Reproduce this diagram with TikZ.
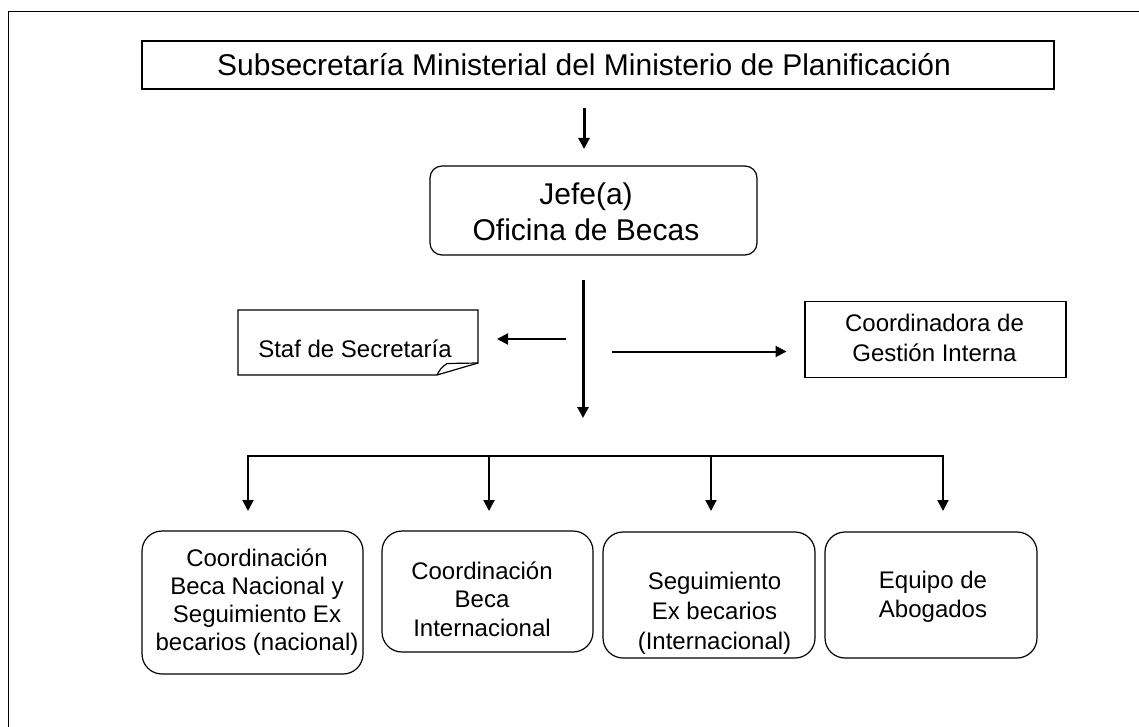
\documentclass[tikz,border=0pt]{standalone}
\usepackage{fontspec}
\setmainfont{Liberation Sans}
\usetikzlibrary{arrows.meta}
\begin{document}
\begin{tikzpicture}[x=1pt,y=-1pt,
  box/.style={draw,line width=1.2pt,inner sep=0pt},
  rbox/.style={draw,line width=1.2pt,inner sep=0pt,rounded corners=20pt},
  lbl/.style={inner sep=0pt,align=center},
  big/.style={font=\fontsize{30}{36}\selectfont},
  arr/.style={-{Triangle[width=11pt,length=11pt]}},
  thick3/.style={line width=3pt},
  thin2/.style={line width=2pt}]
\useasboundingbox (0,0) rectangle (1139,727);
% frame
\draw[line width=1pt] (8,727) -- (8,12) -- (1139,12);
% title
\node[box,minimum width=912pt,minimum height=48pt] (title) at (598,65) {};
\node[lbl,big,anchor=base] (titletxt) at (584,76) {Subsecretaría Ministerial del Ministerio de Planificación};
% jefe
\node[box,rounded corners=12pt,minimum width=327pt,minimum height=89pt] (jefe) at (593.5,210.5) {};
\node[lbl,big] (jefetxt) at (586,212) {Jefe(a)\\Oficina de Becas};
% staf
\node[minimum width=240pt,minimum height=65pt,inner sep=0pt] (staf) at (358,342.5) {};
\draw[line width=1.2pt] (238,310) -- (478,310) -- (478,363) -- (437,375) -- (238,375) -- cycle;
\draw[line width=1.2pt] (437,375) .. controls (441,368) .. (447,363.5) -- (478,363);
\node[lbl,font=\fontsize{24}{28}\selectfont,anchor=base] (staftxt) at (355,357) {Staf de Secretaría};
% coordinadora
\node[box,minimum width=261pt,minimum height=76pt] (coord) at (935.5,339.5) {};
\node[lbl,font=\fontsize{24}{30}\selectfont] (coordtxt) at (934.5,338) {Coordinadora de\\Gestión Interna};
% bottom boxes
\node[rbox,minimum width=221pt,minimum height=143pt] (b1) at (252.5,602.5) {};
\node[lbl,font=\fontsize{24}{28}\selectfont] (b1txt) at (257,602.5) {Coordinación\\Beca Nacional y\\Seguimiento Ex\\becarios (nacional)};
\node[rbox,minimum width=211pt,minimum height=121pt] (b2) at (487.5,591.5) {};
\node[lbl,font=\fontsize{24}{28.5}\selectfont] (b2txt) at (482,599) {Coordinación\\Beca\\Internacional};
\node[rbox,minimum width=212pt,minimum height=126pt] (b3) at (709,595) {};
\node[lbl,font=\fontsize{24}{30}\selectfont] (b3txt) at (714.5,613.5) {Seguimiento\\Ex becarios\\(Internacional)};
\node[rbox,minimum width=212pt,minimum height=126pt] (b4) at (931,595) {};
\node[lbl,font=\fontsize{24}{29}\selectfont] (b4txt) at (933,597) {Equipo de\\Abogados};
% connectors
\coordinate (a1s) at (584,108); \coordinate (a1e) at (584,149);
\draw[arr,thick3] (a1s) -- (a1e);
\coordinate (vs) at (583,280); \coordinate (ve) at (583,418);
\draw[arr,thick3] (vs) -- (ve);
\coordinate (ls) at (566,339); \coordinate (le) at (497,339);
\draw[arr,thin2] (ls) -- (le);
\coordinate (rs) at (612,351.5); \coordinate (re) at (786.5,351.5);
\draw[arr,thin2] (rs) -- (re);
\coordinate (p1) at (248,456); \coordinate (p2) at (489,456);
\coordinate (p3) at (711,456); \coordinate (p4) at (943,456);
\draw[line width=2.5pt,line cap=rect] (p1) -- (p4);
\foreach \p in {p1,p2,p3,p4}{
  \draw[arr,thin2] (\p) -- ++(0,55);
}
\end{tikzpicture}
\end{document}
